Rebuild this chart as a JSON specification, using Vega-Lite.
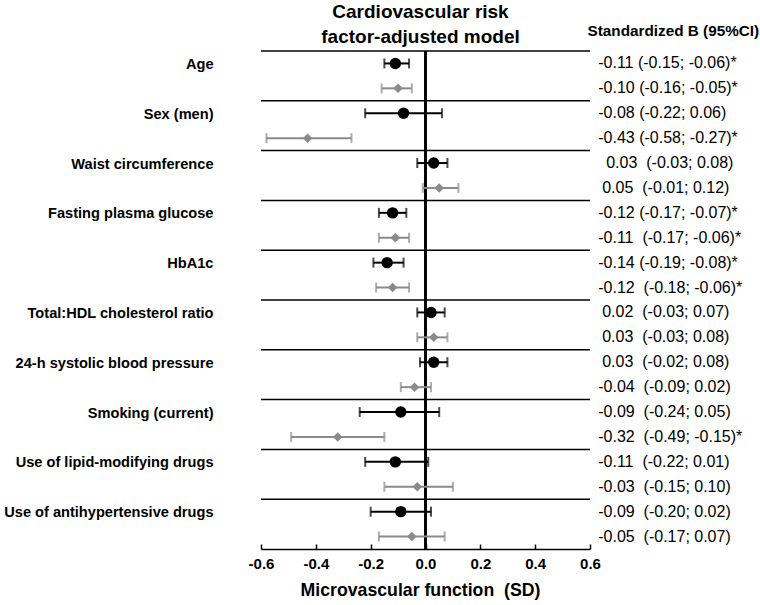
{
  "$schema": "https://vega.github.io/schema/vega-lite/v6.json",
  "width": 329,
  "height": 498,
  "autosize": {"type": "none"},
  "padding": {"left": 261, "top": 51, "right": 170, "bottom": 56},
  "background": "white",
  "config": {
    "view": {"stroke": null},
    "font": "Liberation Sans",
    "text": {"font": "Liberation Sans"}
  },
  "title": {
    "text": ["Cardiovascular risk", "factor-adjusted model"],
    "fontSize": 19,
    "fontWeight": "bold",
    "font": "Liberation Sans",
    "color": "black",
    "anchor": "middle",
    "frame": "group",
    "lineHeight": 25,
    "offset": 8,
    "dx": -5,
    "dy": 32
  },
  "data": {
    "values": [
      {"group": "Age", "series": "Model A", "est": -0.11, "lo": -0.15, "hi": -0.06, "label": "-0.11 (-0.15; -0.06)*"},
      {"group": "Age", "series": "Model B", "est": -0.10, "lo": -0.16, "hi": -0.05, "label": "-0.10 (-0.16; -0.05)*"},
      {"group": "Sex (men)", "series": "Model A", "est": -0.08, "lo": -0.22, "hi": 0.06, "label": "-0.08 (-0.22; 0.06)"},
      {"group": "Sex (men)", "series": "Model B", "est": -0.43, "lo": -0.58, "hi": -0.27, "label": "-0.43 (-0.58; -0.27)*"},
      {"group": "Waist circumference", "series": "Model A", "est": 0.03, "lo": -0.03, "hi": 0.08, "label": "\u200b\u20020.03\u00a0 (-0.03; 0.08)"},
      {"group": "Waist circumference", "series": "Model B", "est": 0.05, "lo": -0.01, "hi": 0.12, "label": "\u200b\u20050.05\u00a0 (-0.01; 0.12)"},
      {"group": "Fasting plasma glucose", "series": "Model A", "est": -0.12, "lo": -0.17, "hi": -0.07, "label": "-0.12 (-0.17; -0.07)*"},
      {"group": "Fasting plasma glucose", "series": "Model B", "est": -0.11, "lo": -0.17, "hi": -0.06, "label": "-0.11\u00a0 (-0.17; -0.06)*"},
      {"group": "HbA1c", "series": "Model A", "est": -0.14, "lo": -0.19, "hi": -0.08, "label": "-0.14 (-0.19; -0.08)*"},
      {"group": "HbA1c", "series": "Model B", "est": -0.12, "lo": -0.18, "hi": -0.06, "label": "-0.12\u00a0 (-0.18; -0.06)*"},
      {"group": "Total:HDL cholesterol ratio", "series": "Model A", "est": 0.02, "lo": -0.03, "hi": 0.07, "label": "\u200b\u20050.02\u00a0 (-0.03; 0.07)"},
      {"group": "Total:HDL cholesterol ratio", "series": "Model B", "est": 0.03, "lo": -0.03, "hi": 0.08, "label": "\u200b\u20050.03\u00a0 (-0.03; 0.08)"},
      {"group": "24-h systolic blood pressure", "series": "Model A", "est": 0.03, "lo": -0.02, "hi": 0.08, "label": "\u200b\u20050.03\u00a0 (-0.02; 0.08)"},
      {"group": "24-h systolic blood pressure", "series": "Model B", "est": -0.04, "lo": -0.09, "hi": 0.02, "label": "-0.04\u00a0 (-0.09; 0.02)"},
      {"group": "Smoking (current)", "series": "Model A", "est": -0.09, "lo": -0.24, "hi": 0.05, "label": "-0.09\u00a0 (-0.24; 0.05)"},
      {"group": "Smoking (current)", "series": "Model B", "est": -0.32, "lo": -0.49, "hi": -0.15, "label": "-0.32\u00a0 (-0.49; -0.15)*"},
      {"group": "Use of lipid-modifying drugs", "series": "Model A", "est": -0.11, "lo": -0.22, "hi": 0.01, "label": "-0.11\u00a0 (-0.22; 0.01)"},
      {"group": "Use of lipid-modifying drugs", "series": "Model B", "est": -0.03, "lo": -0.15, "hi": 0.10, "label": "-0.03\u00a0 (-0.15; 0.10)"},
      {"group": "Use of antihypertensive drugs", "series": "Model A", "est": -0.09, "lo": -0.20, "hi": 0.02, "label": "-0.09\u00a0 (-0.20; 0.02)"},
      {"group": "Use of antihypertensive drugs", "series": "Model B", "est": -0.05, "lo": -0.17, "hi": 0.07, "label": "-0.05\u00a0 (-0.17; 0.07)"}
    ]
  },
  "layer": [
    {
      "transform": [{"filter": "datum.series == 'Model A'"}],
      "mark": {"type": "rule", "color": "black", "strokeWidth": 1.5},
      "encoding": {
        "y": {
          "field": "group", "type": "nominal", "bandPosition": 0,
          "scale": {"type": "band", "domain": ["Age", "Sex (men)", "Waist circumference", "Fasting plasma glucose", "HbA1c", "Total:HDL cholesterol ratio", "24-h systolic blood pressure", "Smoking (current)", "Use of lipid-modifying drugs", "Use of antihypertensive drugs"], "paddingInner": 0, "paddingOuter": 0},
          "axis": {
            "title": "Standardized B (95%CI)",
            "titleAngle": 0, "titleX": 326, "titleY": -21, "titleAlign": "left", "titleBaseline": "middle",
            "titleFontSize": 15.3, "titleFontWeight": "bold", "titleFont": "Liberation Sans", "titleColor": "black",
            "domain": false, "ticks": false, "grid": false,
            "labelOffset": -11, "labelPadding": 48, "labelFontSize": 14.6, "labelFontWeight": "bold",
            "labelFont": "Liberation Sans", "labelColor": "black", "labelLimit": 400
          }
        }
      }
    },
    {
      "mark": {"type": "rule", "color": "black", "strokeWidth": 1.3},
      "encoding": {"x": {"datum": 0, "type": "quantitative"}}
    },
    {
      "mark": {"type": "rule", "strokeWidth": 2},
      "encoding": {
        "x": {
          "field": "lo", "type": "quantitative",
          "scale": {"domain": [-0.6, 0.6], "nice": false, "zero": false},
          "axis": {
            "title": "Microvascular function\u00a0 (SD)",
            "titleFontSize": 17.7, "titleFontWeight": "bold", "titleFont": "Liberation Sans", "titleColor": "black",
            "titleX": 159, "titleY": 41, "titleBaseline": "middle",
            "values": [-0.6, -0.5, -0.4, -0.3, -0.2, -0.1, 0, 0.1, 0.2, 0.3, 0.4, 0.5, 0.6],
            "labelExpr": "abs(round(datum.value*10)) % 2 == 0 ? replace(format(datum.value, '.1f'), '\u2212', '-') : ''",
            "labelFlush": false, "labelOverlap": false, "labelBound": false,
            "labelFontSize": 15, "labelFontWeight": "bold", "labelFont": "Liberation Sans", "labelColor": "black",
            "labelPadding": 12,
            "grid": false, "domainColor": "black", "domainWidth": 1.5,
            "tickColor": "black", "tickWidth": 1.5, "tickSize": -5
          }
        },
        "x2": {"field": "hi"},
        "y": {"field": "group", "type": "nominal", "scale": {"type": "band"}},
        "yOffset": {"field": "series", "type": "nominal", "scale": {"type": "band", "domain": ["Model A", "Model B"], "paddingInner": 0, "paddingOuter": 0}},
        "color": {"field": "series", "type": "nominal", "scale": {"domain": ["Model A", "Model B"], "range": ["#000000", "#8a8a8a"]}, "legend": null}
      }
    },
    {
      "mark": {"type": "tick", "thickness": 2, "size": 10},
      "encoding": {
        "x": {"field": "lo", "type": "quantitative"},
        "y": {"field": "group", "type": "nominal", "scale": {"type": "band"}},
        "yOffset": {"field": "series", "type": "nominal"},
        "color": {"field": "series", "type": "nominal", "legend": null}
      }
    },
    {
      "mark": {"type": "tick", "thickness": 2, "size": 10},
      "encoding": {
        "x": {"field": "hi", "type": "quantitative"},
        "y": {"field": "group", "type": "nominal", "scale": {"type": "band"}},
        "yOffset": {"field": "series", "type": "nominal"},
        "color": {"field": "series", "type": "nominal", "legend": null}
      }
    },
    {
      "mark": {"type": "point", "filled": true, "opacity": 1},
      "encoding": {
        "x": {"field": "est", "type": "quantitative"},
        "y": {"field": "group", "type": "nominal", "scale": {"type": "band"}},
        "yOffset": {"field": "series", "type": "nominal"},
        "color": {"field": "series", "type": "nominal", "legend": null},
        "shape": {"field": "series", "type": "nominal", "scale": {"domain": ["Model A", "Model B"], "range": ["circle", "diamond"]}, "legend": null},
        "size": {"field": "series", "type": "nominal", "scale": {"domain": ["Model A", "Model B"], "range": [130, 90]}, "legend": null}
      }
    },
    {
      "mark": {"type": "text", "align": "left", "baseline": "middle", "fontSize": 16, "font": "Liberation Sans", "color": "black"},
      "encoding": {
        "x": {"datum": 0.63, "type": "quantitative"},
        "y": {"field": "group", "type": "nominal", "scale": {"type": "band"}},
        "yOffset": {"field": "series", "type": "nominal"},
        "text": {"field": "label"}
      }
    }
  ]
}
